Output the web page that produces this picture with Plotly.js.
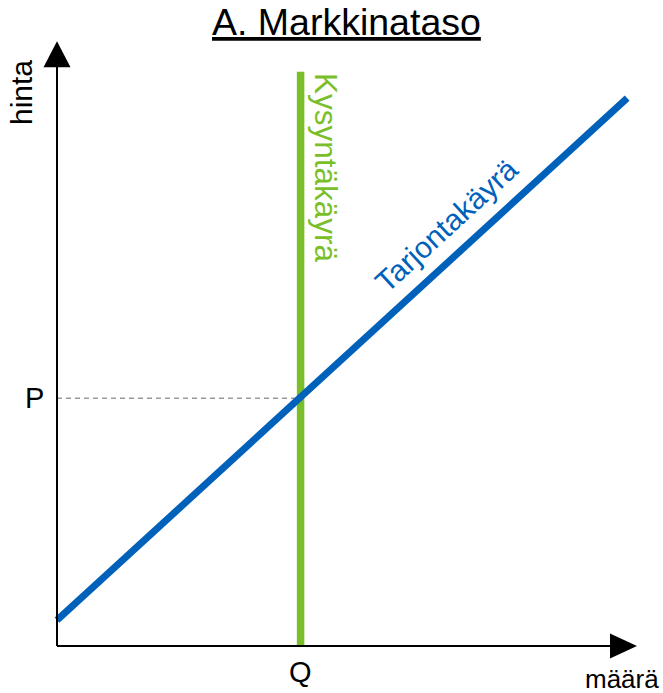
<!DOCTYPE html>
<html>
<head>
<meta charset="utf-8">
<script src="https://cdn.plot.ly/plotly-3.0.1.min.js"></script>
<style>html,body{margin:0;padding:0;background:#fff;}#chart{width:663px;height:693px;}</style>
</head>
<body>
<div id="chart"></div>
<script>
// ---- data (model units) ----
const demandQ = [4.2, 4.2];
const demandP = [0, 9.57];
const supplyQ = [0, 9.83];
const supplyP = [0.43, 9.13];
const equilibriumQ = 4.2;
const equilibriumP = 4.13;
const axisMax = { x: 10, y: 10.08 };
const labels = {
  title: 'A. Markkinataso',
  yTitle: 'hinta',
  xTitle: 'määrä',
  p: 'P',
  q: 'Q',
  demand: 'Kysyntäkäyrä',
  supply: 'Tarjontakäyrä'
};

const FONT = 'Liberation Sans, Arial, sans-serif';
const GREEN = '#7ABF2A';
const BLUE = '#0061BB';
const W = 663, H = 693;
const px = (x) => x / W;
const py = (y) => 1 - y / H;

const traces = [
  { x: [0, equilibriumQ], y: [equilibriumP, equilibriumP], mode: 'lines',
    line: { color: '#9a9a9a', width: 1.6, dash: '5px,4px' }, hoverinfo: 'skip' },
  { x: demandQ, y: demandP, mode: 'lines', line: { color: GREEN, width: 7.5 }, hoverinfo: 'skip' },
  { x: supplyQ, y: supplyP, mode: 'lines', line: { color: BLUE, width: 7 }, hoverinfo: 'skip' }
];

function label(text, x, y, size, color, angle) {
  return { text: text, xref: 'paper', yref: 'paper', x: px(x), y: py(y),
    xanchor: 'center', yanchor: 'middle', textangle: angle || 0,
    showarrow: false, font: { family: FONT, size: size, color: color } };
}

const titleAnn = label(labels.title, 346, 22, 37.5, '#000');
titleAnn.font.lineposition = 'under';

const layout = {
  width: W, height: H,
  margin: { l: 0, r: 0, t: 0, b: 0 },
  paper_bgcolor: '#fff', plot_bgcolor: '#fff',
  showlegend: false,
  xaxis: { range: [-57 / 58, 606 / 58], visible: false, fixedrange: true },
  yaxis: { range: [-47 / 60, 646 / 60], visible: false, fixedrange: true },
  shapes: [
    { type: 'line', xref: 'x', yref: 'y', x0: 0, y0: 0, x1: axisMax.x - 0.3, y1: 0,
      line: { color: '#000', width: 2 } },
    { type: 'line', xref: 'x', yref: 'y', x0: 0, y0: 0, x1: 0, y1: axisMax.y - 0.3,
      line: { color: '#000', width: 2 } },
    { type: 'path', xref: 'x', yref: 'y', xsizemode: 'pixel', ysizemode: 'pixel',
      xanchor: 0, yanchor: axisMax.y, path: 'M -13.5 -26 L 13.5 -26 L 0 0 Z',
      fillcolor: '#000', line: { width: 0 } },
    { type: 'path', xref: 'x', yref: 'y', xsizemode: 'pixel', ysizemode: 'pixel',
      xanchor: axisMax.x, yanchor: 0, path: 'M -27 -12.5 L -27 12.5 L 0 0 Z',
      fillcolor: '#000', line: { width: 0 } }
  ],
  annotations: [
    titleAnn,
    label(labels.yTitle, 21, 93, 30, '#000', -90),
    label(labels.xTitle, 622, 679, 26, '#000'),
    { text: labels.p, xref: 'x', yref: 'y', x: 0, y: equilibriumP, xanchor: 'right', yanchor: 'middle',
      xshift: -11, showarrow: false, font: { family: FONT, size: 29, color: '#000' } },
    { text: labels.q, xref: 'x', yref: 'y', x: equilibriumQ, y: 0, xanchor: 'center', yanchor: 'top',
      yshift: -8, showarrow: false, font: { family: FONT, size: 29, color: '#000' } },
    label(labels.demand, 326, 168, 31.5, GREEN, 90),
    label(labels.supply, 446, 225, 30, BLUE, -42.5)
  ]
};

Plotly.newPlot('chart', traces, layout, { staticPlot: true, displayModeBar: false });
</script>
</body>
</html>
